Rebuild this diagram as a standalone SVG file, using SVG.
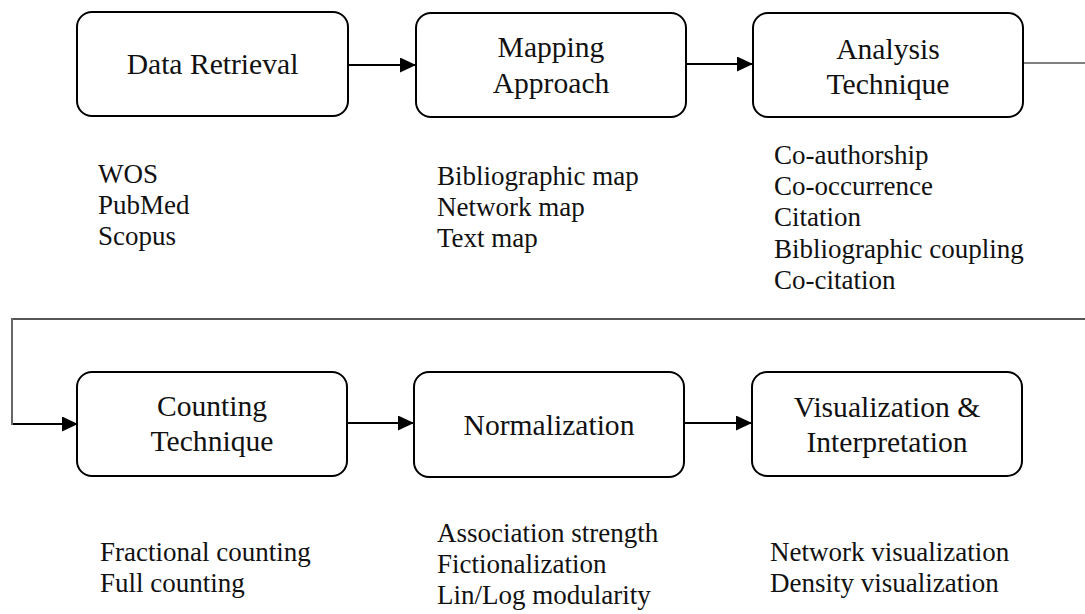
<svg xmlns="http://www.w3.org/2000/svg" width="1085" height="614" viewBox="0 0 1085 614">
  <style>
    .box { fill: #ffffff; stroke: #000000; stroke-width: 2; }
    .lbl { font-family: "Liberation Serif", "Times New Roman", serif; font-size: 29.6px; fill: #111111; text-anchor: middle; }
    .lst { font-family: "Liberation Serif", "Times New Roman", serif; font-size: 27px; fill: #111111; }
    .arr { fill: none; stroke: #000000; stroke-width: 2; marker-end: url(#ah); }
    .thin { fill: none; stroke: #000000; stroke-width: 1.2; }
    .gray { fill: none; stroke: #555555; stroke-width: 1.8; }
  </style>
  <defs>
    <marker id="ah" markerUnits="userSpaceOnUse" markerWidth="17" markerHeight="16" refX="16" refY="7.5" orient="auto">
      <path d="M0,0 L16,7.5 L0,15 Z" fill="#000000"/>
    </marker>
  </defs>
  <rect width="1085" height="614" fill="#ffffff"/>

  <g id="connectors">
    <line class="arr" x1="348" y1="65" x2="416" y2="65"/>
    <line class="arr" x1="686" y1="64" x2="753" y2="64"/>
    <line class="thin" x1="1023" y1="63" x2="1085" y2="63"/>
    <line class="gray" x1="13" y1="319" x2="1085" y2="319"/>
    <line class="thin" x1="12" y1="318" x2="12" y2="425"/>
    <line class="arr" x1="13" y1="424" x2="78" y2="424"/>
    <line class="arr" x1="347" y1="423" x2="414" y2="423"/>
    <line class="arr" x1="684" y1="423" x2="752" y2="423"/>
  </g>

  <g id="data-retrieval">
    <rect class="box" x="77" y="12" width="271" height="104" rx="15"/>
    <text class="lbl" x="212.5" y="74">Data Retrieval</text>
    <text class="lst" x="98" y="183">WOS</text>
    <text class="lst" x="98" y="214">PubMed</text>
    <text class="lst" x="98" y="245">Scopus</text>
  </g>

  <g id="mapping-approach">
    <rect class="box" x="416" y="13" width="270" height="104" rx="15"/>
    <text class="lbl" x="551" y="57">Mapping</text>
    <text class="lbl" x="551" y="93">Approach</text>
    <text class="lst" x="437" y="185">Bibliographic map</text>
    <text class="lst" x="437" y="216">Network map</text>
    <text class="lst" x="437" y="247">Text map</text>
  </g>

  <g id="analysis-technique">
    <rect class="box" x="753" y="13" width="270" height="104" rx="15"/>
    <text class="lbl" x="888" y="59">Analysis</text>
    <text class="lbl" x="888" y="94">Technique</text>
    <text class="lst" x="774" y="164">Co-authorship</text>
    <text class="lst" x="774" y="195">Co-occurrence</text>
    <text class="lst" x="774" y="226">Citation</text>
    <text class="lst" x="774" y="258">Bibliographic coupling</text>
    <text class="lst" x="774" y="289">Co-citation</text>
  </g>

  <g id="counting-technique">
    <rect class="box" x="77" y="372" width="270" height="104" rx="15"/>
    <text class="lbl" x="212" y="416">Counting</text>
    <text class="lbl" x="212" y="451">Technique</text>
    <text class="lst" x="100" y="561">Fractional counting</text>
    <text class="lst" x="100" y="592">Full counting</text>
  </g>

  <g id="normalization">
    <rect class="box" x="414" y="372" width="270" height="105" rx="15"/>
    <text class="lbl" x="549" y="435">Normalization</text>
    <text class="lst" x="437" y="542">Association strength</text>
    <text class="lst" x="437" y="573">Fictionalization</text>
    <text class="lst" x="437" y="604">Lin/Log modularity</text>
  </g>

  <g id="visualization-interpretation">
    <rect class="box" x="752" y="372" width="270" height="104" rx="15"/>
    <text class="lbl" x="887" y="417">Visualization &amp;</text>
    <text class="lbl" x="887" y="452">Interpretation</text>
    <text class="lst" x="770" y="561">Network visualization</text>
    <text class="lst" x="770" y="592">Density visualization</text>
  </g>
</svg>
